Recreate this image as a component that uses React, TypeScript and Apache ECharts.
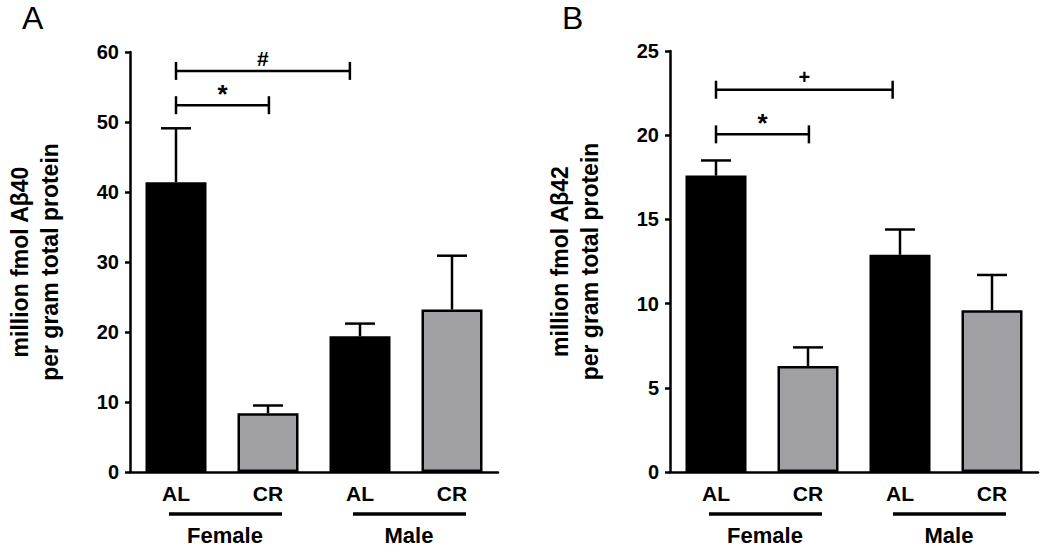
import React, { useEffect, useRef } from "react";
import * as echarts from "echarts";

const categories = ["AL", "CR", "AL", "CR"];
const groupNames = ["Female", "Male"];
const groupSpans = [
  [0, 1],
  [2, 3],
];
const barColors = ["#000000", "#a0a0a4", "#000000", "#a0a0a4"];

const abeta40Mean = [41.4, 8.4, 19.4, 23.2];
const abeta40Err = [7.7, 1.1, 1.8, 7.7];
const abeta42Mean = [17.6, 6.3, 12.9, 9.6];
const abeta42Err = [0.9, 1.1, 1.5, 2.1];

// significance brackets: [from category, to category, y value]
const sigA = [
  [0, 1.01, 52.4],
  [0, 1.89, 57.3],
];
const sigALabels = ["*", "#"];
const sigB = [
  [0, 1.01, 20.05],
  [0, 1.92, 22.7],
];
const sigBLabels = ["*", "+"];

const yTitleA = "million fmol Aβ40\nper gram total protein";
const yTitleB = "million fmol Aβ42\nper gram total protein";

const FONT = "'Liberation Sans', Arial, sans-serif";
const LW = 2.5;

const symbolStyle: Record<string, { size: number; dy: number }> = {
  "*": { size: 26, dy: 2 },
  "#": { size: 21, dy: -2 },
  "+": { size: 20, dy: -3 },
};

function xPos(api: any, v: number) {
  const f = Math.floor(v);
  return api.coord([f, 0])[0] + (v - f) * api.size([1, 0])[0];
}

function makeSeries(idx: number, mean: number[], err: number[], sig: number[][], sigLabels: string[]) {
  return [
    {
      type: "bar",
      xAxisIndex: idx,
      yAxisIndex: idx,
      barWidth: 61,
      data: mean.map((v, i) => ({
        value: v,
        itemStyle: { color: barColors[i], borderColor: "#000", borderWidth: LW },
      })),
      z: 2,
    },
    {
      type: "custom",
      xAxisIndex: idx,
      yAxisIndex: idx,
      z: 3,
      clip: false,
      encode: { x: 0, y: 1 },
      data: mean.map((m, i) => [i, m, err[i]]),
      renderItem: (params: any, api: any) => {
        const x = api.value(0);
        const m = api.value(1);
        const e = api.value(2);
        const b = api.coord([x, m]);
        const t = api.coord([x, m + e]);
        const cap = 15;
        return {
          type: "group",
          children: [
            { type: "line", shape: { x1: b[0], y1: b[1], x2: t[0], y2: t[1] }, style: { stroke: "#000", lineWidth: LW } },
            { type: "line", shape: { x1: t[0] - cap, y1: t[1], x2: t[0] + cap, y2: t[1] }, style: { stroke: "#000", lineWidth: LW } },
          ],
        };
      },
    },
    {
      type: "custom",
      xAxisIndex: idx,
      yAxisIndex: idx,
      z: 3,
      clip: false,
      encode: { x: [0, 1], y: 2 },
      data: sig,
      renderItem: (params: any, api: any) => {
        const x1 = xPos(api, api.value(0));
        const x2 = xPos(api, api.value(1));
        const y = api.coord([0, api.value(2)])[1];
        const h = 9;
        const lab = sigLabels[params.dataIndex];
        const st = symbolStyle[lab];
        return {
          type: "group",
          children: [
            { type: "line", shape: { x1, y1: y, x2, y2: y }, style: { stroke: "#000", lineWidth: LW } },
            { type: "line", shape: { x1, y1: y - h, x2: x1, y2: y + h }, style: { stroke: "#000", lineWidth: LW } },
            { type: "line", shape: { x1: x2, y1: y - h, x2, y2: y + h }, style: { stroke: "#000", lineWidth: LW } },
            {
              type: "text",
              x: (x1 + x2) / 2,
              y: y + st.dy,
              style: {
                text: lab,
                fill: "#000",
                font: `bold ${st.size}px ${FONT}`,
                align: "center",
                verticalAlign: "bottom",
              },
            },
          ],
        };
      },
    },
    {
      type: "custom",
      xAxisIndex: idx,
      yAxisIndex: idx,
      z: 3,
      clip: false,
      encode: { x: [0, 1], y: 2 },
      data: groupSpans.map((g) => [g[0], g[1], 0]),
      renderItem: (params: any, api: any) => {
        const a = api.coord([api.value(0), 0]);
        const b = api.coord([api.value(1), 0]);
        const ly = a[1] + 42;
        return {
          type: "group",
          children: [
            { type: "line", shape: { x1: a[0] - 7, y1: ly, x2: b[0] + 14, y2: ly }, style: { stroke: "#000", lineWidth: 3.5 } },
            {
              type: "text",
              x: (a[0] + b[0]) / 2 + 3,
              y: ly + 21,
              style: {
                text: groupNames[params.dataIndex],
                fill: "#000",
                font: `bold 22px ${FONT}`,
                align: "center",
                verticalAlign: "middle",
              },
            },
          ],
        };
      },
    },
  ];
}

function makeAxes(idx: number, max: number, interval: number, title: string) {
  const x = {
    type: "category",
    gridIndex: idx,
    data: categories,
    axisLine: { lineStyle: { color: "#000", width: LW } },
    axisTick: { alignWithLabel: true, length: 6, lineStyle: { color: "#000", width: LW } },
    axisLabel: { color: "#000", fontFamily: FONT, fontWeight: "bold", fontSize: 21, margin: 11 },
  };
  const y = {
    type: "value",
    gridIndex: idx,
    min: 0,
    max,
    interval,
    splitLine: { show: false },
    axisLine: { show: true, lineStyle: { color: "#000", width: LW } },
    axisTick: { show: true, length: 5, lineStyle: { color: "#000", width: LW } },
    axisLabel: { color: "#000", fontFamily: FONT, fontWeight: "bold", fontSize: 20, margin: 11 },
    name: title,
    nameLocation: "middle",
    nameRotate: 90,
    nameGap: 65,
    nameTextStyle: { color: "#000", fontFamily: FONT, fontWeight: "bold", fontSize: 23, lineHeight: 30 },
  };
  return { x, y };
}

export default function App() {
  const ref = useRef<HTMLDivElement>(null);
  useEffect(() => {
    if (!ref.current) return;
    const chart = echarts.init(ref.current, null, { renderer: "svg" });
    const a = makeAxes(0, 60, 10, yTitleA);
    const b = makeAxes(1, 25, 5, yTitleB);
    chart.setOption({
      animation: false,
      backgroundColor: "#ffffff",
      grid: [
        { left: 130, top: 52, width: 368, bottom: 79 },
        { left: 670, top: 51, width: 368, bottom: 79 },
      ],
      xAxis: [a.x, b.x],
      yAxis: [a.y, b.y],
      graphic: [
        { type: "text", left: 22, top: 2, style: { text: "A", fill: "#000", font: `32px ${FONT}` } },
        { type: "text", left: 562, top: 2, style: { text: "B", fill: "#000", font: `32px ${FONT}` } },
      ],
      series: [
        ...makeSeries(0, abeta40Mean, abeta40Err, sigA, sigALabels),
        ...makeSeries(1, abeta42Mean, abeta42Err, sigB, sigBLabels),
      ],
    });
    return () => chart.dispose();
  }, []);
  return <div ref={ref} style={{ position: "fixed", left: 0, top: 0, width: 1050, height: 551 }} />;
}
